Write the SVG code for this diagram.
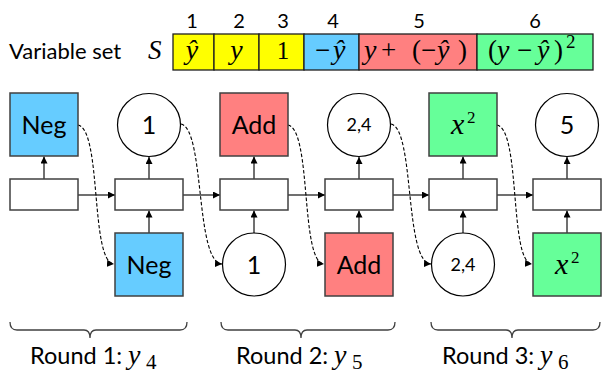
<svg xmlns="http://www.w3.org/2000/svg" width="602" height="373" viewBox="0 0 602 373">
<defs>
<style>
.lbl{font-family:Lato,"Liberation Sans",sans-serif;fill:#000}
.math{font-family:"Liberation Serif","DejaVu Serif",serif;font-style:italic;fill:#000}
.up{font-style:normal}
.op{font-style:normal;font-size:27px}
.box{stroke:#404040;stroke-width:1.5}
.cell{stroke:#202020;stroke-width:1.3}
.circ{fill:#fff;stroke:#000;stroke-width:1.2}
.mid{fill:#fff;stroke:#404040;stroke-width:1.5}
.arr{stroke:#404040;stroke-width:1.5;fill:none;marker-end:url(#ah)}
.dash{stroke:#000;stroke-width:1.1;fill:none;stroke-dasharray:3.5,2;marker-end:url(#ah)}
.brace{stroke:#404040;stroke-width:1.3;fill:none}
.neg{fill:#66CCFF}.add{fill:#FF8080}.sq{fill:#66FF99}.yel{fill:#FFFF00}
</style>
<marker id="ah" viewBox="0 0 10 10" refX="10" refY="5" markerWidth="7" markerHeight="7" markerUnits="userSpaceOnUse" orient="auto"><path d="M0,0 L10,5 L0,10 z" fill="#000"/></marker>
</defs>
<rect width="602" height="373" fill="#fff"/>

<g id="variable-set">
<text class="lbl" x="9" y="59" font-size="22">Variable set</text>
<text class="math" x="148" y="59" font-size="27">S</text>
<rect class="cell yel" x="173" y="34" width="41" height="36"/>
<rect class="cell yel" x="214" y="34" width="45" height="36"/>
<rect class="cell yel" x="259" y="34" width="45" height="36"/>
<rect class="cell neg" x="304" y="34" width="55" height="36"/>
<rect class="cell add" x="359" y="34" width="118" height="36"/>
<rect class="cell sq" x="477" y="34" width="116" height="36"/>
<g class="lbl" font-size="20" text-anchor="middle">
<text x="192" y="28">1</text><text x="239" y="28">2</text><text x="283" y="28">3</text><text x="333" y="28">4</text><text x="419" y="28">5</text><text x="535" y="28">6</text>
</g>
<g class="math" font-size="28">
<text x="192" y="59" text-anchor="middle">ŷ</text>
<text x="236.5" y="59" text-anchor="middle">y</text>
<text class="up" x="283" y="59" font-size="25" text-anchor="middle">1</text>
<text y="59"><tspan class="op" x="315">−</tspan><tspan x="333">ŷ</tspan></text>
<text y="59"><tspan x="364">y</tspan><tspan class="op" x="381">+</tspan><tspan class="op" x="412">(</tspan><tspan class="op" x="421">−</tspan><tspan x="437">ŷ</tspan><tspan class="op" x="458">)</tspan></text>
<text y="59"><tspan class="op" x="488">(</tspan><tspan x="497">y</tspan><tspan class="op" x="517">−</tspan><tspan x="537">ŷ</tspan><tspan class="op" x="554">)</tspan><tspan class="up" x="566" y="48" font-size="19">2</tspan></text>
</g>
</g>

<g id="connectors">
<line class="arr" x1="78" y1="195" x2="115" y2="195"/>
<line class="arr" x1="183" y1="195" x2="220" y2="195"/>
<line class="arr" x1="288" y1="195" x2="325" y2="195"/>
<line class="arr" x1="393" y1="195" x2="429" y2="195"/>
<line class="arr" x1="497" y1="195" x2="533" y2="195"/>
<line class="arr" x1="44" y1="179" x2="44" y2="156.5"/>
<line class="arr" x1="149" y1="179" x2="149" y2="157"/>
<line class="arr" x1="254" y1="179" x2="254" y2="156.5"/>
<line class="arr" x1="359" y1="179" x2="359" y2="157"/>
<line class="arr" x1="463" y1="179" x2="463" y2="156.5"/>
<line class="arr" x1="567" y1="179" x2="567" y2="157"/>
<line class="arr" x1="149" y1="233" x2="149" y2="210.5"/>
<line class="arr" x1="254" y1="233" x2="254" y2="210.5"/>
<line class="arr" x1="359" y1="233" x2="359" y2="210.5"/>
<line class="arr" x1="463" y1="233" x2="463" y2="210.5"/>
<line class="arr" x1="567" y1="233" x2="567" y2="210.5"/>
<path class="dash" d="M78,125 C102,130 90,262 114,264"/>
<path class="dash" d="M181,124 C205,129 195,262 222,264"/>
<path class="dash" d="M288,125 C312,130 300,262 324,264"/>
<path class="dash" d="M391,124 C415,129 404,262 431,264"/>
<path class="dash" d="M497,125 C521,130 509,262 532,264"/>
</g>

<g id="mid-rects">
<rect class="mid" x="10" y="179" width="68" height="31"/>
<rect class="mid" x="115" y="179" width="68" height="31"/>
<rect class="mid" x="220" y="179" width="68" height="31"/>
<rect class="mid" x="325" y="179" width="68" height="31"/>
<rect class="mid" x="429" y="179" width="68" height="31"/>
<rect class="mid" x="533" y="179" width="68" height="31"/>
</g>

<g id="top-neg"><rect class="box neg" x="10" y="93" width="68" height="63"/><text class="lbl" x="44" y="134" font-size="25" text-anchor="middle">Neg</text></g>
<g id="top-1"><circle class="circ" cx="149" cy="125" r="31.5"/><text class="lbl" x="149" y="134" font-size="25" text-anchor="middle">1</text></g>
<g id="top-add"><rect class="box add" x="220" y="93" width="68" height="63"/><text class="lbl" x="254" y="134" font-size="25" text-anchor="middle">Add</text></g>
<g id="top-24"><circle class="circ" cx="359" cy="125" r="31.5"/><text class="lbl" x="359" y="131" font-size="18" text-anchor="middle">2,4</text></g>
<g id="top-sq"><rect class="box sq" x="429" y="93" width="68" height="63"/><text class="math" x="451" y="134" font-size="30">x<tspan class="up" x="467" y="123" font-size="17">2</tspan></text></g>
<g id="top-5"><circle class="circ" cx="567" cy="125" r="31.5"/><text class="lbl" x="567" y="134" font-size="25" text-anchor="middle">5</text></g>

<g id="bot-neg"><rect class="box neg" x="115" y="233" width="68" height="63"/><text class="lbl" x="149" y="274" font-size="25" text-anchor="middle">Neg</text></g>
<g id="bot-1"><circle class="circ" cx="254" cy="264.5" r="31.5"/><text class="lbl" x="254" y="274" font-size="25" text-anchor="middle">1</text></g>
<g id="bot-add"><rect class="box add" x="325" y="233" width="68" height="63"/><text class="lbl" x="359" y="274" font-size="25" text-anchor="middle">Add</text></g>
<g id="bot-24"><circle class="circ" cx="463" cy="264.5" r="31.5"/><text class="lbl" x="463" y="271" font-size="18" text-anchor="middle">2,4</text></g>
<g id="bot-sq"><rect class="box sq" x="533" y="233" width="68" height="63"/><text class="math" x="555" y="274" font-size="30">x<tspan class="up" x="571" y="263" font-size="17">2</tspan></text></g>

<g id="rounds">
<path class="brace" d="M10,322 Q10,330 17,330 H84 Q90,330 90,338 Q90,330 96,330 H180 Q187,330 187,322"/>
<path class="brace" d="M221,322 Q221,330 228,330 H295 Q301,330 301,338 Q301,330 307,330 H388 Q395,330 395,322"/>
<path class="brace" d="M431,322 Q431,330 438,330 H506 Q512,330 512,338 Q512,330 518,330 H593 Q600,330 600,322"/>
<text class="lbl" x="30" y="364" font-size="23.5">Round 1:<tspan class="math" x="128" font-size="28">y</tspan><tspan class="math up" x="146" y="369" font-size="21">4</tspan></text>
<text class="lbl" x="236" y="364" font-size="23.5">Round 2:<tspan class="math" x="334" font-size="28">y</tspan><tspan class="math up" x="352" y="369" font-size="21">5</tspan></text>
<text class="lbl" x="442" y="364" font-size="23.5">Round 3:<tspan class="math" x="540" font-size="28">y</tspan><tspan class="math up" x="558" y="369" font-size="21">6</tspan></text>
</g>
</svg>
